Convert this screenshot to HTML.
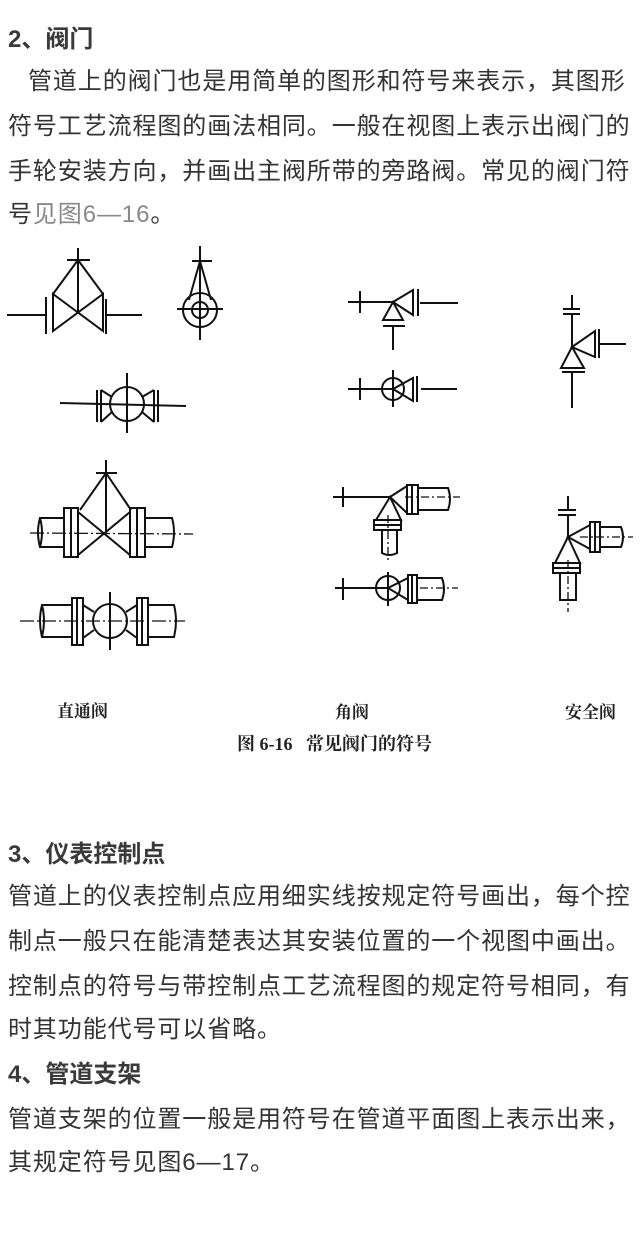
<!DOCTYPE html>
<html><head><meta charset="utf-8"><style>
html,body{margin:0;padding:0;background:#fff;}
body{width:640px;height:1260px;position:relative;overflow:hidden;font-family:"Liberation Sans","Noto Sans CJK SC",sans-serif;color:#333;}
.l{position:absolute;left:8px;font-size:24px;line-height:30px;white-space:nowrap;}
.b{font-weight:bold;color:#3a3a3a;}
.s2{letter-spacing:0.9px;}
.g{color:#888;}
.cap{position:absolute;font-family:"Liberation Serif","Noto Serif CJK SC",serif;font-size:17px;font-weight:bold;color:#222;white-space:nowrap;line-height:20px;}
svg{position:absolute;left:0;top:0;}
</style></head><body>
<div class="l b" style="top:25px">2、阀门</div>
<div class="l s2" style="top:67px;left:28px">管道上的阀门也是用简单的图形和符号来表示，其图形</div>
<div class="l s2" style="top:112px">符号工艺流程图的画法相同。一般在视图上表示出阀门的</div>
<div class="l s2" style="top:157px">手轮安装方向，并画出主阀所带的旁路阀。常见的阀门符</div>
<div class="l s2" style="top:200px">号<span class="g">见图6—16</span>。</div>

<svg width="640" height="700" viewBox="0 0 640 700" fill="none" stroke="#111" stroke-width="2">
<line x1="78" y1="248" x2="78" y2="313"/><line x1="67" y1="260" x2="90" y2="260"/>
<polyline points="53,294 78,260 103,294"/>
<polygon points="53,294 103,331 103,294 53,331"/>
<line x1="46" y1="297" x2="46" y2="334"/><line x1="106" y1="299" x2="106" y2="334"/>
<line x1="7" y1="315" x2="46" y2="315"/><line x1="106" y1="315" x2="142" y2="315"/>
<line x1="200" y1="246" x2="200" y2="340"/><line x1="192" y1="261" x2="212" y2="261"/>
<polyline points="189,300 200,261 211,300"/>
<circle cx="200" cy="310" r="17"/><circle cx="200" cy="310" r="8"/>
<line x1="177" y1="309" x2="223" y2="309"/>
<line x1="60" y1="403" x2="186" y2="406"/><line x1="127" y1="373" x2="127" y2="433"/>
<circle cx="127" cy="404" r="17"/>
<line x1="97" y1="390" x2="97" y2="422"/><line x1="101" y1="390" x2="101" y2="422"/>
<line x1="154" y1="390" x2="154" y2="422"/><line x1="158" y1="390" x2="158" y2="422"/>
<polyline points="101,390 112,397"/><polyline points="101,422 112,412"/>
<polyline points="154,390 142,397"/><polyline points="154,422 142,412"/>
<line x1="106" y1="460" x2="106" y2="532"/><line x1="96" y1="473" x2="117" y2="473"/>
<polyline points="80,510 106,473 131,510"/>
<polygon points="78,512 130,555 130,512 78,555"/>
<rect x="64" y="508" width="14" height="49"/><line x1="71" y1="508" x2="71" y2="557"/>
<rect x="130" y="508" width="15" height="49"/><line x1="137" y1="508" x2="137" y2="557"/>
<path d="M64,518 H40 Q36,532 40,547 H64"/><path d="M40,518 Q44,532 40,547"/>
<path d="M145,518 H172 Q176,532 172,547 H145"/>
<line x1="30" y1="533" x2="193" y2="534" stroke-width="1.3" stroke-dasharray="14,3,2,3"/>
<line x1="110" y1="592" x2="110" y2="650"/>
<circle cx="110" cy="621" r="17"/>
<rect x="72" y="598" width="11" height="47"/><line x1="77" y1="598" x2="77" y2="645"/>
<rect x="137" y="598" width="11" height="47"/><line x1="142" y1="598" x2="142" y2="645"/>
<polyline points="83,605 94,612"/><polyline points="83,638 94,630"/>
<polyline points="137,605 126,612"/><polyline points="137,638 126,630"/>
<path d="M72,605 H42 Q38,621 42,637 H72"/><path d="M42,605 Q46,621 42,637"/>
<path d="M148,605 H174 Q178,621 174,637 H148"/>
<line x1="20" y1="621" x2="185" y2="621" stroke-width="1.3" stroke-dasharray="14,3,2,3"/>

<line x1="348" y1="302" x2="393" y2="302"/><line x1="360" y1="291" x2="360" y2="313"/>
<polygon points="393,302 413,290 413,315"/>
<line x1="418" y1="289" x2="418" y2="316"/><line x1="420" y1="303" x2="458" y2="303"/>
<polygon points="393,302 383,320 403,320"/>
<line x1="383" y1="326" x2="405" y2="326"/><line x1="393" y1="326" x2="393" y2="350"/>
<circle cx="393" cy="389" r="11"/>
<line x1="348" y1="389" x2="393" y2="389"/><line x1="360" y1="378" x2="360" y2="400"/>
<line x1="393" y1="370" x2="393" y2="407"/>
<polygon points="393,389 413,378 413,401"/>
<line x1="417" y1="376" x2="417" y2="402"/><line x1="421" y1="389" x2="457" y2="389"/>
<line x1="572" y1="295" x2="572" y2="309"/>
<line x1="563" y1="309" x2="580" y2="309"/><line x1="563" y1="314" x2="580" y2="314"/>
<line x1="572" y1="314" x2="572" y2="347"/>
<polygon points="572,347 595,331 595,357"/>
<line x1="599" y1="329" x2="599" y2="358"/><line x1="600" y1="344" x2="626" y2="344"/>
<polygon points="572,347 561,368 584,368"/>
<line x1="562" y1="372" x2="585" y2="372"/><line x1="572" y1="372" x2="572" y2="408"/>
<line x1="333" y1="497" x2="390" y2="497"/><line x1="343" y1="487" x2="343" y2="507"/>
<polygon points="390,497 407,486 407,513"/>
<rect x="407" y="485" width="11" height="29"/><line x1="412" y1="485" x2="412" y2="514"/>
<path d="M418,488 H448 Q452,499 448,510 H418"/>
<line x1="405" y1="497" x2="460" y2="497" stroke-width="1.3" stroke-dasharray="8,3,2,3"/>
<polygon points="390,497 376,520 401,520"/>
<rect x="374" y="520" width="27" height="10"/><line x1="374" y1="525" x2="401" y2="525"/>
<path d="M382,530 V553 Q389,557 397,553 V530"/>
<line x1="388" y1="515" x2="388" y2="563" stroke-width="1.3" stroke-dasharray="8,3,2,3"/>
<circle cx="388" cy="588" r="12"/>
<line x1="335" y1="588" x2="388" y2="588"/><line x1="343" y1="578" x2="343" y2="600"/>
<line x1="388" y1="572" x2="388" y2="606"/>
<polygon points="388,588 408,578 408,600"/>
<rect x="408" y="575" width="9" height="28"/><line x1="412" y1="575" x2="412" y2="603"/>
<path d="M417,578 H442 Q446,589 442,600 H417"/>
<line x1="420" y1="588" x2="458" y2="588" stroke-width="1.3" stroke-dasharray="8,3,2,3"/>
<line x1="568" y1="496" x2="568" y2="510"/>
<line x1="558" y1="510" x2="576" y2="510"/><line x1="558" y1="515" x2="576" y2="515"/>
<line x1="568" y1="515" x2="568" y2="537"/>
<polygon points="568,537 590,525 590,549"/>
<rect x="590" y="522" width="10" height="30"/><line x1="595" y1="522" x2="595" y2="552"/>
<path d="M600,527 H621 Q625,537 621,547 H600"/>
<line x1="580" y1="537" x2="633" y2="537" stroke-width="1.3" stroke-dasharray="8,3,2,3"/>
<polygon points="568,537 555,563 580,563"/>
<rect x="553" y="563" width="27" height="10"/><line x1="553" y1="568" x2="580" y2="568"/>
<path d="M560,573 V600 H576 V573"/>
<line x1="568" y1="560" x2="568" y2="612" stroke-width="1.3" stroke-dasharray="8,3,2,3"/>
</svg>

<div class="cap" style="left:57px;top:702px">直通阀</div>
<div class="cap" style="left:335px;top:703px">角阀</div>
<div class="cap" style="left:565px;top:703px">安全阀</div>
<div class="cap" style="left:237px;top:734px;font-size:18px">图 6-16&nbsp;&nbsp; 常见阀门的符号</div>

<div class="l b" style="top:840px">3、仪表控制点</div>
<div class="l s2" style="top:882px">管道上的仪表控制点应用细实线按规定符号画出，每个控</div>
<div class="l s2" style="top:927px">制点一般只在能清楚表达其安装位置的一个视图中画出。</div>
<div class="l s2" style="top:972px">控制点的符号与带控制点工艺流程图的规定符号相同，有</div>
<div class="l s2" style="top:1015px">时其功能代号可以省略。</div>
<div class="l b" style="top:1060px">4、管道支架</div>
<div class="l s2" style="top:1105px">管道支架的位置一般是用符号在管道平面图上表示出来，</div>
<div class="l s2" style="top:1148px">其规定符号见图6—17。</div>
</body></html>
